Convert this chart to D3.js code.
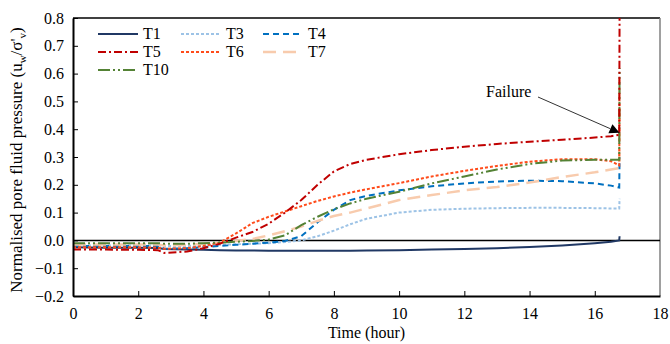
<!DOCTYPE html>
<html><head><meta charset="utf-8">
<script src="https://cdn.jsdelivr.net/npm/d3@7"></script>
<style>body{margin:0;background:#fff}svg{display:block}</style>
</head><body>
<script>
const times = [0,1,2,2.6,2.8,3.5,4,4.5,5,5.5,6,6.5,7,7.5,8,8.5,9,10,11,12,13,14,15,16,16.5,16.75,16.76];
const T1  = [-0.025,-0.026,-0.026,-0.027,-0.031,-0.033,-0.034,-0.035,-0.036,-0.036,-0.037,-0.037,-0.037,-0.037,-0.037,-0.037,-0.036,-0.035,-0.033,-0.031,-0.028,-0.024,-0.018,-0.010,-0.005,0.0,0.015];
const T3  = [-0.018,-0.018,-0.018,-0.018,-0.02,-0.02,-0.018,-0.016,-0.014,-0.012,-0.01,-0.006,0.0,0.015,0.035,0.058,0.078,0.10,0.11,0.114,0.116,0.117,0.117,0.116,0.115,0.115,0.15];
const T4  = [-0.02,-0.02,-0.02,-0.02,-0.03,-0.028,-0.024,-0.02,-0.016,-0.012,-0.008,-0.002,0.015,0.065,0.11,0.145,0.16,0.18,0.195,0.205,0.212,0.215,0.213,0.205,0.197,0.19,0.3];
const T5  = [-0.033,-0.033,-0.034,-0.035,-0.045,-0.04,-0.028,-0.012,0.01,0.03,0.06,0.10,0.145,0.20,0.248,0.275,0.29,0.31,0.325,0.337,0.347,0.355,0.362,0.37,0.375,0.38,0.8];
const T6  = [-0.025,-0.025,-0.025,-0.026,-0.03,-0.028,-0.02,-0.008,0.025,0.062,0.085,0.104,0.123,0.142,0.158,0.172,0.184,0.206,0.23,0.25,0.268,0.283,0.292,0.292,0.285,0.27,0.5];
const T7  = [-0.015,-0.015,-0.015,-0.015,-0.018,-0.016,-0.012,-0.008,-0.002,0.005,0.018,0.033,0.05,0.07,0.088,0.1,0.115,0.145,0.163,0.18,0.192,0.208,0.228,0.245,0.255,0.26,0.58];
const T10 = [-0.01,-0.01,-0.01,-0.01,-0.012,-0.012,-0.01,-0.008,-0.005,-0.002,0.003,0.018,0.055,0.085,0.112,0.133,0.15,0.175,0.205,0.23,0.255,0.275,0.287,0.29,0.29,0.29,0.62];
const seriesNames = ["T1","T3","T4","T5","T6","T7","T10"];
const seriesValues = [T1,T3,T4,T5,T6,T7,T10];
const xTicks = [0,2,4,6,8,10,12,14,16,18];
const yTicks = [-0.2,-0.1,0.0,0.1,0.2,0.3,0.4,0.5,0.6,0.7,0.8];
const failureTime = 16.76, failureValue = 0.38;

const FONT = "'Liberation Serif', 'Times New Roman', Times, 'DejaVu Serif', serif";
const styles = {
  T1:{c:"#203864",d:null,w:2},
  T3:{c:"#9dc3e6",d:"3,2",w:2},
  T4:{c:"#0070c0",d:"6,4",w:2},
  T5:{c:"#c00000",d:"8,3,2,3",w:2},
  T6:{c:"#ff4b1a",d:"3,2",w:2},
  T7:{c:"#f8cbad",d:"13,7",w:2.5},
  T10:{c:"#548235",d:"12,3,2,3,2,3",w:2}
};

const W=670,H=344,m={l:73,r:10,t:18,b:48};
const svg=d3.select("body").append("svg").attr("width",W).attr("height",H)
  .style("font-family",FONT);
const x=d3.scaleLinear().domain([0,18]).range([m.l,W-m.r]);
const y=d3.scaleLinear().domain([-0.2,0.8]).range([H-m.b,m.t]);

svg.append("defs").append("clipPath").attr("id","clip").append("rect")
  .attr("x",m.l).attr("y",m.t).attr("width",W-m.l-m.r).attr("height",H-m.t-m.b);

svg.append("line").attr("x1",m.l).attr("x2",W-m.r).attr("y1",m.t).attr("y2",m.t).attr("stroke","#000").attr("stroke-width",1.5);
svg.append("line").attr("x1",W-m.r).attr("x2",W-m.r).attr("y1",m.t).attr("y2",H-m.b).attr("stroke","#808080").attr("stroke-width",1.5);

svg.append("line").attr("x1",m.l).attr("x2",W-m.r).attr("y1",y(0)).attr("y2",y(0)).attr("stroke","#000").attr("stroke-width",1.5);

const line=d3.line().x((d,i)=>x(times[i])).y(d=>y(d));
const g=svg.append("g").attr("clip-path","url(#clip)");
const order=["T1","T3","T4","T7","T6","T10","T5"];
order.forEach(n=>{
  const v=seriesValues[seriesNames.indexOf(n)], s=styles[n];
  g.append("path").attr("d",line(v)).attr("fill","none").attr("stroke",s.c)
   .attr("stroke-width",s.w).attr("stroke-dasharray",s.d);
});

const xa=svg.append("g").attr("transform",`translate(0,${H-m.b})`)
  .call(d3.axisBottom(x).tickValues(xTicks).tickSizeInner(-5).tickSizeOuter(0).tickPadding(12).tickFormat(d3.format("d")));
const ya=svg.append("g").attr("transform",`translate(${m.l},0)`)
  .call(d3.axisLeft(y).tickValues(yTicks).tickSizeInner(-5).tickSizeOuter(0).tickPadding(9).tickFormat(d3.format(".1f")));
[xa,ya].forEach(a=>{
  a.attr("font-family",null).attr("font-size",null);
  a.select(".domain").attr("stroke","#000").attr("stroke-width",2);
  a.selectAll(".tick line").attr("stroke","#000").attr("stroke-width",1);
  a.selectAll("text").style("font-family",FONT).style("font-size","16px").attr("fill","#000");
});
xa.selectAll(".tick").filter(d=>d===0||d===18).select("line").remove();

function T(sel){return sel.style("font-family",FONT).style("font-size","16px").attr("fill","#000");}

T(svg.append("text")).attr("x",(m.l+W-m.r)/2).attr("y",338).attr("text-anchor","middle").text("Time (hour)");
const yl=T(svg.append("text")).attr("transform",`translate(22,${(m.t+H-m.b)/2+3}) rotate(-90)`).attr("text-anchor","middle").style("font-size","17px");
yl.append("tspan").text("Normalised pore fluid pressure (u");
yl.append("tspan").style("font-size","11px").attr("dy",4).text("w");
yl.append("tspan").attr("dy",-4).text("/σ'");
yl.append("tspan").style("font-size","11px").attr("dy",4).text("v");
yl.append("tspan").attr("dy",-4).text(")");

const legPos=[[98,34],[181,34],[263,34],[98,52],[181,52],[263,52],[98,70]];
seriesNames.forEach((n,i)=>{
  const s=styles[n],[lx,ly]=legPos[i];
  svg.append("line").attr("x1",lx).attr("x2",lx+40).attr("y1",ly).attr("y2",ly)
    .attr("stroke",s.c).attr("stroke-width",s.w).attr("stroke-dasharray",s.d);
  T(svg.append("text")).attr("x",lx+45).attr("y",ly+5).text(n);
});

T(svg.append("text")).attr("x",486).attr("y",97).text("Failure");
const ax1=538,ay1=97,ax2=x(failureTime),ay2=y(failureValue)-2;
const ang=Math.atan2(ay2-ay1,ax2-ax1);
const hl=10,hw=5;
const bx=ax2-hl*Math.cos(ang),by=ay2-hl*Math.sin(ang);
svg.append("line").attr("x1",ax1).attr("y1",ay1).attr("x2",bx).attr("y2",by).attr("stroke","#333").attr("stroke-width",1);
svg.append("path").attr("d",`M${ax2},${ay2}L${bx-hw*Math.sin(ang)},${by+hw*Math.cos(ang)}L${bx+hw*Math.sin(ang)},${by-hw*Math.cos(ang)}Z`).attr("fill","#000");
</script>
</body></html>
